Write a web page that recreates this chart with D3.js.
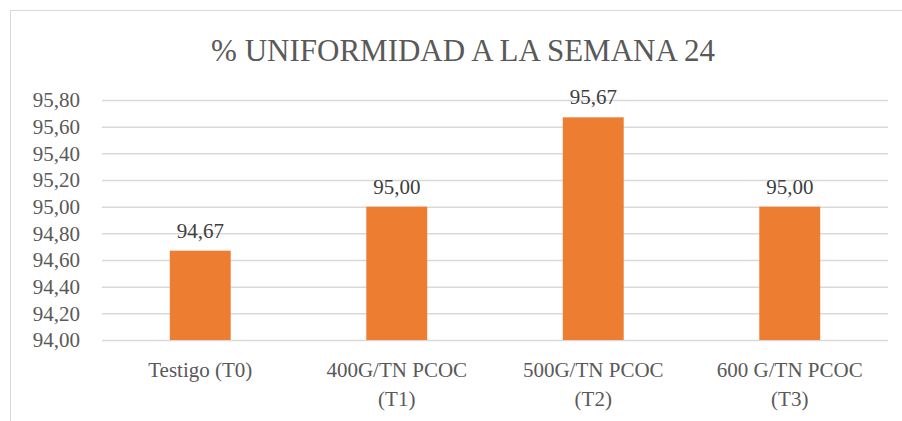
<!DOCTYPE html>
<meta charset="utf-8">
<script src="https://d3js.org/d3.v7.min.js"></script>
<style>
  body { margin: 0; background: #fff; }
</style>
<div id="chart"></div>
<script>
// data
var categories = ["Testigo (T0)", "400G/TN PCOC (T1)", "500G/TN PCOC (T2)", "600 G/TN PCOC (T3)"];
var catLines = [["Testigo (T0)"], ["400G/TN PCOC", "(T1)"], ["500G/TN PCOC", "(T2)"], ["600 G/TN PCOC", "(T3)"]];
var values = [94.67, 95.00, 95.67, 95.00];
var yTicks = [94.0, 94.2, 94.4, 94.6, 94.8, 95.0, 95.2, 95.4, 95.6, 95.8];

var width = 902, height = 421;
var plotL = 102, plotR = 888, plotT = 100, plotB = 340;

var svg = d3.select("#chart").append("svg")
    .attr("width", width)
    .attr("height", height)
    .attr("font-family", "Liberation Serif");

// chart border
svg.append("rect")
    .attr("x", 10.5).attr("y", 10.5)
    .attr("width", 910).attr("height", 430)
    .attr("fill", "none")
    .attr("stroke", "#d9d9d9");

svg.append("text")
    .attr("x", 463).attr("y", 61)
    .attr("text-anchor", "middle")
    .attr("font-family", "Liberation Serif")
    .attr("font-size", 31)
    .attr("fill", "#595959")
    .text("% UNIFORMIDAD A LA SEMANA 24");

var x = d3.scaleBand().domain(categories).range([plotL, plotR]).paddingInner(0.69).paddingOuter(0.345);
var y = d3.scaleLinear().domain([94.0, 95.8]).range([plotB, plotT]);

var fmt = function(d) { return d.toFixed(2).replace(".", ","); };

// gridlines + y labels
var yAxis = svg.append("g")
    .attr("transform", "translate(" + plotL + ",0)")
    .call(d3.axisLeft(y).tickValues(yTicks).tickFormat(fmt).tickSize(-(plotR - plotL)).tickPadding(22));
yAxis.attr("font-family", "Liberation Serif").attr("font-size", 21);
yAxis.select(".domain").remove();
yAxis.selectAll(".tick line").attr("stroke", "#d9d9d9").attr("stroke-width", 1.5);
yAxis.selectAll(".tick text").attr("fill", "#595959");

// bars
svg.selectAll(".bar")
    .data(values)
  .enter().append("rect")
    .attr("class", "bar")
    .attr("x", function(d, i) { return x(categories[i]); })
    .attr("y", function(d) { return y(d); })
    .attr("width", x.bandwidth())
    .attr("height", function(d) { return y(94.0) - y(d); })
    .attr("fill", "#ed7d31");

// data labels
svg.selectAll(".label")
    .data(values)
  .enter().append("text")
    .attr("class", "label")
    .attr("x", function(d, i) { return x(categories[i]) + x.bandwidth() / 2; })
    .attr("y", function(d) { return y(d) - 13; })
    .attr("text-anchor", "middle")
    .attr("font-size", 21)
    .attr("fill", "#404040")
    .text(fmt);

// category labels
var cat = svg.selectAll(".cat")
    .data(catLines)
  .enter().append("text")
    .attr("class", "cat")
    .attr("text-anchor", "middle")
    .attr("font-size", 21)
    .attr("fill", "#595959")
    .attr("transform", function(d, i) {
      return "translate(" + (x(categories[i]) + x.bandwidth() / 2) + "," + 377 + ")";
    });
cat.selectAll("tspan")
    .data(function(d) { return d; })
  .enter().append("tspan")
    .attr("x", 0)
    .attr("dy", function(d, i) { return i === 0 ? 0 : 29; })
    .text(function(d) { return d; });
</script>
